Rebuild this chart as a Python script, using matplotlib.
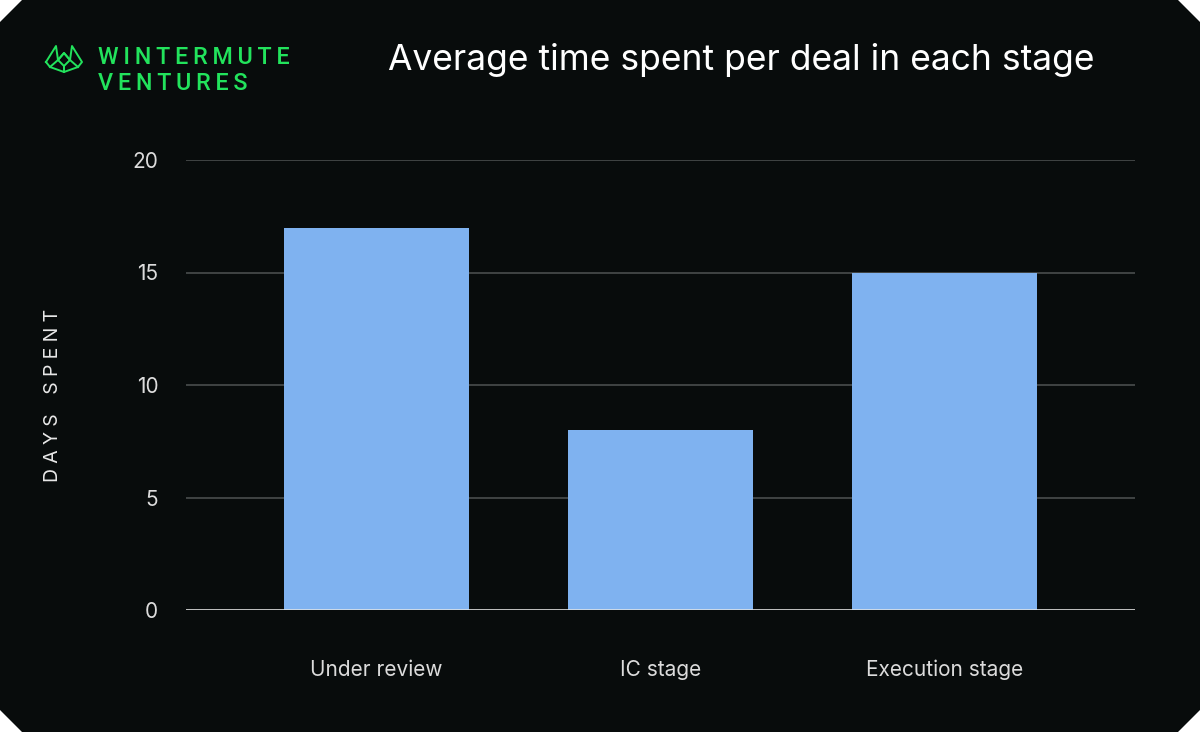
import numpy as np
import matplotlib.pyplot as plt
from matplotlib.patches import Polygon

# data
stages = ["Under review", "IC stage", "Execution stage"]
days = [17, 8, 15]
yticks = [0, 5, 10, 15, 20]

bg = "#080c0c"
bar_col = "#7fb2f0"
green = "#22e35c"

W, H = 1200, 732
fig = plt.figure(figsize=(12, 7.32), dpi=100)
fig.patch.set_facecolor("white")

# dark card with chamfered corners (pixel coords)
c = 22
card = Polygon([(c, 0), (W - c, 0), (W, c), (W, H - c), (W - c, H), (c, H), (0, H - c), (0, c)],
               closed=True, transform=None, facecolor=bg, edgecolor="none", zorder=-10)
fig.patches.append(card)

ax = fig.add_axes([186 / W, 1 - 610 / H, (1135 - 186) / W, (610 - 160) / H])
ax.set_facecolor(bg)
x = np.arange(len(stages))
ax.bar(x, days, width=0.65, color=bar_col, zorder=3)
ax.set_xlim(-0.67, 2.67)
ax.set_ylim(0, 20)
ax.set_yticks(yticks)
ax.yaxis.grid(True, color="#4a4d4d", linewidth=1.2, zorder=0)
ax.axhline(0, color="#e6e6e6", linewidth=1.8, zorder=4)
for s in ax.spines.values():
    s.set_visible(False)
ax.tick_params(length=0, labelsize=15, colors="#dcdcdc")
ax.tick_params(axis="y", pad=20)
ax.tick_params(axis="x", pad=36)
ax.set_xticks(x)
ax.set_xticklabels(stages)
for lab in ax.get_xticklabels() + ax.get_yticklabels():
    lab.set_family("Inter")

ylab = "\u2009\u200a".join("DAYS").strip() + "\u2003" + "\u2009\u200a".join("SPENT")
fig.text(53 / W, 1 - 395 / H, ylab, rotation=90, ha="center", va="center",
         color="#e8e8e8", fontsize=14, family="Inter")

fig.text(741 / W, 1 - 60 / H, "Average time spent per deal in each stage", ha="center", va="center",
         color="white", fontsize=25.5, family="Inter")

# logo text
fig.text(98 / W, 1 - 58 / H, "\u2009".join("WINTERMUTE"), ha="left", va="center",
         color=green, fontsize=16.8, family="Roboto", weight="medium")
fig.text(98 / W, 1 - 84 / H, "\u2009".join("VENTURES"), ha="left", va="center",
         color=green, fontsize=16.8, family="Roboto", weight="medium")

# logo mark (figure pixel coords, y from top)
def px(pts):
    return [(a / W, 1 - b / H) for a, b in pts]
outline = [(46, 62), (56, 46), (58, 60), (64, 53), (70, 60), (72, 46), (82, 62), (78, 67), (64, 72), (50, 67), (46, 62)]
inner = [(50, 67), (58, 60), (64, 53), (70, 60), (78, 67)]
inner2 = [(58, 60), (64, 66), (70, 60)]
inner3 = [(64, 66), (64, 72)]
for seg in (outline, inner, inner2, inner3):
    p = px(seg)
    fig.add_artist(plt.Line2D([q[0] for q in p], [q[1] for q in p], color=green, linewidth=1.4,
                              transform=fig.transFigure))

fig.savefig("out.png", dpi=100, facecolor=fig.get_facecolor())
